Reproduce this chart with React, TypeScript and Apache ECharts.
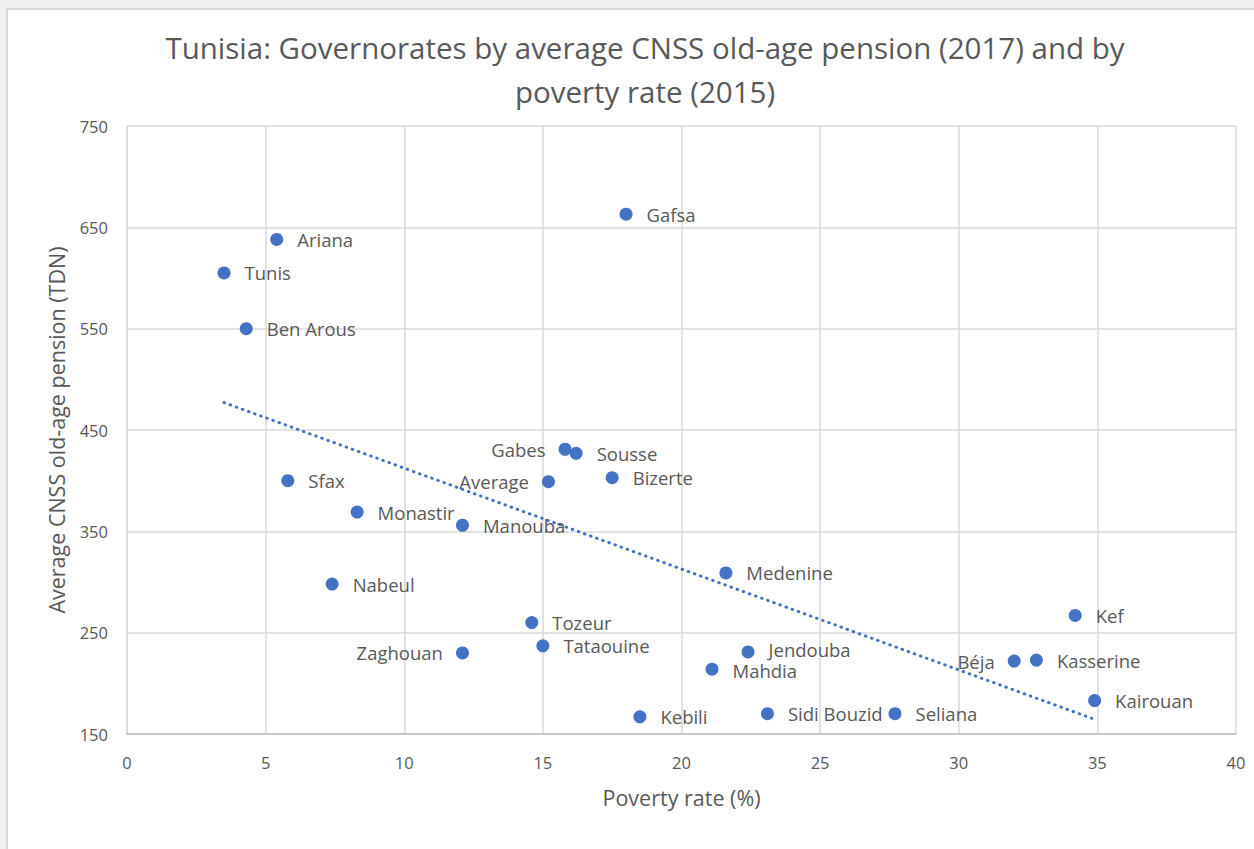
import React, { useEffect, useRef } from "react";
import * as echarts from "echarts";

const titleText = "Tunisia: Governorates by average CNSS old-age pension (2017) and by\npoverty rate (2015)";
const xAxisName = "Poverty rate (%)";
const yAxisName = "Average CNSS old-age pension (TDN)";

const governorates = [
  "Tunis", "Ariana", "Ben Arous", "Manouba", "Nabeul", "Zaghouan", "Bizerte", "Béja",
  "Jendouba", "Kef", "Seliana", "Sousse", "Monastir", "Mahdia", "Sfax", "Kairouan",
  "Kasserine", "Sidi Bouzid", "Gabes", "Medenine", "Tataouine", "Gafsa", "Tozeur", "Kebili",
  "Average",
];
const povertyRate = [
  3.5, 5.4, 4.3, 12.1, 7.4, 12.1, 17.5, 32.0,
  22.4, 34.2, 27.7, 16.2, 8.3, 21.1, 5.8, 34.9,
  32.8, 23.1, 15.8, 21.6, 15.0, 18.0, 14.6, 18.5,
  15.2,
];
const pension = [
  605, 638, 550, 356, 298, 230, 403, 222,
  231, 267, 170, 427, 369, 214, 400, 183,
  223, 170, 431, 309, 237, 663, 260, 167,
  399,
];
const leftLabeled = ["Gabes", "Average", "Zaghouan", "Béja"];
const raisedLabels = ["Jendouba"];
const loweredLabels = ["Mahdia"];

function trend(): number[][] {
  const n = povertyRate.length;
  const mx = povertyRate.reduce((a, b) => a + b, 0) / n;
  const my = pension.reduce((a, b) => a + b, 0) / n;
  let sxy = 0, sxx = 0;
  for (let i = 0; i < n; i++) {
    sxy += (povertyRate[i] - mx) * (pension[i] - my);
    sxx += (povertyRate[i] - mx) ** 2;
  }
  const b = sxy / sxx;
  const a = my - b * mx;
  const x0 = Math.min(...povertyRate);
  const x1 = Math.max(...povertyRate);
  return [[x0, a + b * x0], [x1, a + b * x1]];
}

const FONT = "'Open Sans', 'Noto Sans', sans-serif";

function labelFor(g: string) {
  if (leftLabeled.includes(g)) return { position: "left", distance: 13 };
  if (raisedLabels.includes(g)) return { offset: [0, -2] };
  if (loweredLabels.includes(g)) return { offset: [0, 1] };
  return undefined;
}

export default function App() {
  const ref = useRef<HTMLDivElement>(null);
  useEffect(() => {
    if (!ref.current) return;
    const chart = echarts.init(ref.current, undefined, { renderer: "svg" });
    chart.setOption({
      animation: false,
      backgroundColor: "transparent",
      title: {
        text: titleText,
        left: 640,
        top: 20,
        textAlign: "center",
        textStyle: {
          fontFamily: FONT,
          fontSize: 29.5,
          fontWeight: "normal",
          color: "#595959",
          lineHeight: 44,
        },
      },
      grid: { left: 127, right: 18, top: 126, bottom: 115, containLabel: false },
      xAxis: {
        type: "value",
        min: 0,
        max: 40,
        interval: 5,
        name: xAxisName,
        nameLocation: "middle",
        nameGap: 52,
        nameTextStyle: { fontFamily: FONT, fontSize: 21.5, color: "#595959" },
        axisLine: { show: true, lineStyle: { color: "#bfbfbf", width: 1.5 } },
        axisTick: { show: false },
        axisLabel: { fontFamily: FONT, fontSize: 16.5, color: "#595959", margin: 20 },
        splitLine: { show: true, lineStyle: { color: "#d9d9d9", width: 1.5 } },
      },
      yAxis: {
        type: "value",
        min: 150,
        max: 750,
        interval: 100,
        name: yAxisName,
        nameLocation: "middle",
        nameGap: 60,
        nameTextStyle: { fontFamily: FONT, fontSize: 21.5, color: "#595959" },
        axisLine: { show: true, lineStyle: { color: "#d9d9d9", width: 1.5 } },
        axisTick: { show: false },
        axisLabel: { fontFamily: FONT, fontSize: 16.5, color: "#595959", margin: 19 },
        splitLine: { show: true, lineStyle: { color: "#d9d9d9", width: 1.5 } },
      },
      series: [
        {
          type: "line",
          data: trend(),
          symbol: "none",
          silent: true,
          lineStyle: { color: "#4472C4", width: 3, type: [0.5, 6], cap: "round" },
          z: 1,
        },
        {
          type: "scatter",
          symbolSize: 13,
          itemStyle: { color: "#4472C4", opacity: 1 },
          z: 3,
          label: {
            show: true,
            position: "right",
            distance: 14,
            formatter: "{b}",
            fontFamily: FONT,
            fontSize: 18.5,
            lineHeight: 15,
            color: "#595959",
          },
          data: governorates.map((g, i) => ({
            name: g,
            value: [povertyRate[i], pension[i]],
            label: labelFor(g),
          })),
        },
      ],
    });
    return () => chart.dispose();
  }, []);

  return (
    <div style={{ position: "fixed", left: 0, top: 0, width: 1254, height: 849, background: "#f0f0f0", overflow: "hidden" }}>
      <div style={{ position: "absolute", left: 6, top: 8, width: 1248, height: 841, background: "#ffffff", borderLeft: "2px solid #d9d9d9", borderTop: "2px solid #d9d9d9", boxSizing: "border-box" }} />
      <div ref={ref} style={{ position: "absolute", left: 0, top: 0, width: 1254, height: 849 }} />
    </div>
  );
}
